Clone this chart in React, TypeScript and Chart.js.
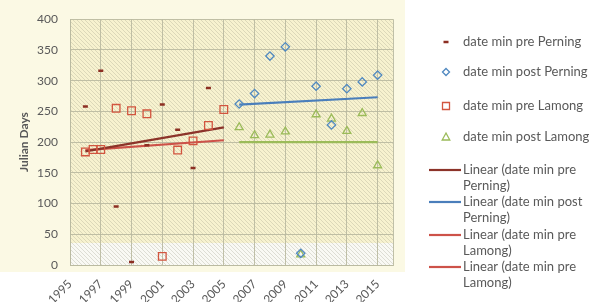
import React, { useEffect, useRef } from 'react';
import { Chart, registerables } from 'chart.js';

Chart.register(...registerables);

// ---- data ----
const prePerningYears = [1996, 1997, 1998, 1999, 2000, 2001, 2002, 2003, 2004];
const prePerningDays = [258, 316, 95, 5, 195, 261, 220, 158, 288];

const postPerningYears = [2006, 2007, 2008, 2009, 2010, 2011, 2012, 2013, 2014, 2015];
const postPerningDays = [262, 279, 340, 355, 19, 291, 228, 287, 298, 309];

const preLamongYears = [1996, 1996.5, 1997, 1998, 1999, 2000, 2001, 2002, 2003, 2004, 2005];
const preLamongDays = [184, 188, 188, 255, 251, 246, 14, 187, 202, 227, 253];

const postLamongYears = [2006, 2007, 2008, 2009, 2010, 2011, 2012, 2013, 2014, 2015];
const postLamongDays = [224, 211, 212, 217, 17, 245, 238, 218, 247, 162];

// trend line end points (as drawn in the reference)
const trendPreYears = [1996, 2005];
const trendPrePerning = [185, 224];
const trendPreLamong = [187, 203];
const trendPostYears = [2006, 2015];
const trendPostPerning = [261, 273];
const trendPostLamong = [200, 200];

const xTickYears = [1995, 1997, 1999, 2001, 2003, 2005, 2007, 2009, 2011, 2013, 2015];
const xMin = 1995;
const xMax = 2016;
const yTicks = [0, 50, 100, 150, 200, 250, 300, 350, 400];
const yTitle = 'Julian Days';

const markerLegendLabels = [
  'date min pre Perning',
  'date min post Perning',
  'date min pre Lamong',
  'date min post Lamong',
];
const trendLegendLabels = [
  ['Linear (date min pre', 'Perning)'],
  ['Linear (date min post', 'Perning)'],
  ['Linear (date min pre', 'Lamong)'],
  ['Linear (date min pre', 'Lamong)'],
];

// ---- styles ----
const C_PRE_PERNING = '#8C2E22';
const C_POST_PERNING = '#5089C0';
const C_PRE_LAMONG = '#D2553F';
const C_POST_LAMONG = '#9BBB59';
const C_TR_PRE_PERNING = '#8C3329';
const C_TR_POST_PERNING = '#4A7EBB';
const C_TR_PRE_LAMONG = '#CD5249';
const TEXT = '#595959';
const FONT = 'Lato, "Open Sans", sans-serif';

const pts = (xs: number[], ys: number[]) => xs.map((x, i) => ({ x, y: ys[i] }));

const backgroundPlugin = {
  id: 'bgPlugin',
  beforeDraw(chart: any) {
    const { ctx, chartArea: a, width, height } = chart;
    ctx.save();
    ctx.fillStyle = '#ffffff';
    ctx.fillRect(0, 0, width, height);
    ctx.fillStyle = '#FBF9E4';
    ctx.fillRect(0, 0, 405, 272);
    ctx.fillStyle = '#F7F2CF';
    ctx.fillRect(a.left, a.top, a.right - a.left, a.bottom - a.top);
    ctx.fillStyle = '#F9F9F4';
    ctx.fillRect(a.left, a.bottom - 22, a.right - a.left, 22);
    // hatch
    ctx.beginPath();
    ctx.rect(a.left, a.top, a.right - a.left, a.bottom - a.top);
    ctx.clip();
    ctx.strokeStyle = 'rgba(150,150,130,0.28)';
    ctx.lineWidth = 1;
    ctx.beginPath();
    const h = a.bottom - a.top;
    for (let x = a.left - h; x < a.right; x += 4) {
      ctx.moveTo(x, a.top);
      ctx.lineTo(x + h, a.bottom);
    }
    ctx.stroke();
    ctx.restore();
  },
};

function drawMarker(ctx: CanvasRenderingContext2D, kind: string, x: number, y: number, color: string) {
  ctx.save();
  ctx.strokeStyle = color;
  ctx.lineWidth = 1.3;
  ctx.beginPath();
  if (kind === 'dash') {
    ctx.lineWidth = 2.5;
    ctx.moveTo(x - 2.5, y);
    ctx.lineTo(x + 2.5, y);
  } else if (kind === 'diamond') {
    ctx.moveTo(x - 3.5, y);
    ctx.lineTo(x, y - 3.5);
    ctx.lineTo(x + 3.5, y);
    ctx.lineTo(x, y + 3.5);
    ctx.closePath();
  } else if (kind === 'square') {
    ctx.rect(x - 3.5, y - 3.5, 7, 7);
  } else {
    ctx.moveTo(x, y - 4);
    ctx.lineTo(x + 3.8, y + 3);
    ctx.lineTo(x - 3.8, y + 3);
    ctx.closePath();
  }
  ctx.stroke();
  ctx.restore();
}

const legendPlugin = {
  id: 'customLegend',
  afterDraw(chart: any) {
    const ctx: CanvasRenderingContext2D = chart.ctx;
    ctx.save();
    ctx.font = `13px ${FONT}`;
    ctx.fillStyle = TEXT;
    ctx.textBaseline = 'middle';
    ctx.textAlign = 'left';
    const markerKinds = ['dash', 'diamond', 'square', 'triangle'];
    const markerColors = [C_PRE_PERNING, C_POST_PERNING, C_PRE_LAMONG, C_POST_LAMONG];
    const markerY = [42, 72, 106, 137];
    markerLegendLabels.forEach((label, i) => {
      drawMarker(ctx, markerKinds[i], 446, markerY[i], markerColors[i]);
      ctx.fillText(label, 463, markerY[i]);
    });
    const lineColors = [C_TR_PRE_PERNING, C_TR_POST_PERNING, C_TR_PRE_LAMONG, C_TR_PRE_LAMONG];
    const lineY = [170, 202, 235, 267];
    trendLegendLabels.forEach((lines, i) => {
      ctx.strokeStyle = lineColors[i];
      ctx.lineWidth = 2.2;
      ctx.beginPath();
      ctx.moveTo(429, lineY[i]);
      ctx.lineTo(461, lineY[i]);
      ctx.stroke();
      lines.forEach((t, j) => ctx.fillText(t, 463, lineY[i] + j * 16));
    });
    ctx.restore();
  },
};

export default function App() {
  const ref = useRef<HTMLCanvasElement | null>(null);

  useEffect(() => {
    if (!ref.current) return;
    const gridColor = 'rgba(185,185,160,0.9)';
    const chart = new Chart(ref.current, {
      type: 'scatter',
      data: {
        datasets: [
          {
            label: 'date min pre Perning',
            data: pts(prePerningYears, prePerningDays),
            pointStyle: 'line',
            pointRadius: 2.5,
            borderWidth: 2.5,
            borderColor: C_PRE_PERNING,
            backgroundColor: C_PRE_PERNING,
          },
          {
            label: 'date min post Perning',
            data: pts(postPerningYears, postPerningDays),
            pointStyle: 'rectRot',
            pointRadius: 4.2,
            borderWidth: 1.3,
            borderColor: C_POST_PERNING,
            backgroundColor: 'rgba(0,0,0,0)',
          },
          {
            label: 'date min pre Lamong',
            data: pts(preLamongYears, preLamongDays),
            pointStyle: 'rect',
            pointRadius: 5.4,
            borderWidth: 1.3,
            borderColor: C_PRE_LAMONG,
            backgroundColor: 'rgba(0,0,0,0)',
          },
          {
            label: 'date min post Lamong',
            data: pts(postLamongYears, postLamongDays),
            pointStyle: 'triangle',
            pointRadius: 4.6,
            borderWidth: 1.3,
            borderColor: C_POST_LAMONG,
            backgroundColor: 'rgba(0,0,0,0)',
          },
          {
            label: 'Linear (date min pre Perning)',
            data: pts(trendPreYears, trendPrePerning),
            showLine: true,
            pointRadius: 0,
            borderWidth: 2.2,
            borderColor: C_TR_PRE_PERNING,
          },
          {
            label: 'Linear (date min post Perning)',
            data: pts(trendPostYears, trendPostPerning),
            showLine: true,
            pointRadius: 0,
            borderWidth: 2.2,
            borderColor: C_TR_POST_PERNING,
          },
          {
            label: 'Linear (date min pre Lamong)',
            data: pts(trendPreYears, trendPreLamong),
            showLine: true,
            pointRadius: 0,
            borderWidth: 2.2,
            borderColor: C_TR_PRE_LAMONG,
          },
          {
            label: 'Linear (date min post Lamong)',
            data: pts(trendPostYears, trendPostLamong),
            showLine: true,
            pointRadius: 0,
            borderWidth: 2.2,
            borderColor: C_POST_LAMONG,
          },
        ],
      },
      options: {
        responsive: false,
        animation: false,
        layout: { padding: { left: 0, top: 17, right: 204, bottom: 0 } },
        plugins: {
          legend: { display: false },
          tooltip: { enabled: false },
        },
        scales: {
          x: {
            type: 'linear',
            min: xMin,
            max: xMax,
            afterBuildTicks: (s: any) => {
              s.ticks = [...xTickYears, xMax].map((v) => ({ value: v }));
            },
            afterFit: (s: any) => {
              s.height = 37;
            },
            grid: { color: gridColor, drawTicks: false, lineWidth: 1 },
            border: { display: true, color: gridColor },
            ticks: {
              autoSkip: false,
              minRotation: 45,
              maxRotation: 45,
              padding: 12,
              color: TEXT,
              font: { family: FONT, size: 12 },
              callback: (v: any) => (v === xMax ? '' : String(v)),
            },
          },
          y: {
            min: 0,
            max: 400,
            afterBuildTicks: (s: any) => {
              s.ticks = yTicks.map((v) => ({ value: v }));
            },
            afterFit: (s: any) => {
              s.width = 70;
            },
            grid: { color: gridColor, drawTicks: false, lineWidth: 1 },
            border: { display: true, color: gridColor },
            ticks: {
              padding: 12,
              color: TEXT,
              font: { family: FONT, size: 12 },
              callback: (v: any) => String(v),
            },
            title: {
              display: true,
              text: yTitle,
              color: TEXT,
              font: { family: FONT, size: 12, weight: 'bold' },
              padding: { top: 17, bottom: 0 },
            },
          },
        },
      },
      plugins: [backgroundPlugin, legendPlugin],
    } as any);
    return () => chart.destroy();
  }, []);

  return (
    <div style={{ position: 'fixed', left: 0, top: 0, width: 597, height: 302 }}>
      <canvas ref={ref} width={597} height={302} style={{ width: 597, height: 302, display: 'block' }} />
    </div>
  );
}
